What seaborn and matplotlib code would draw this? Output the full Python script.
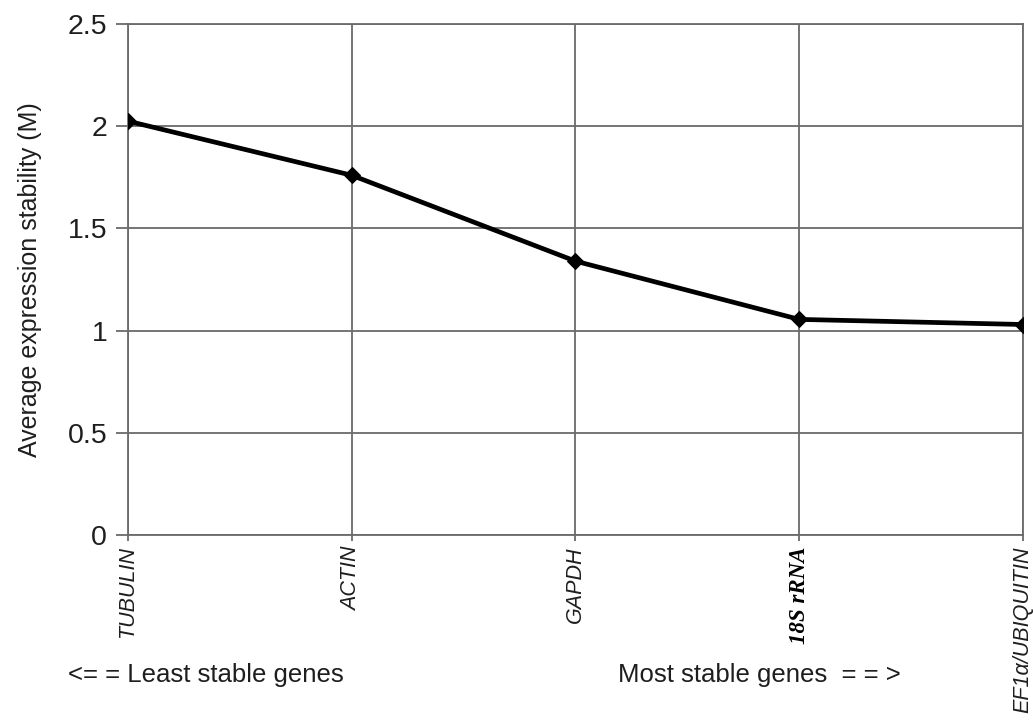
import matplotlib
matplotlib.use("Agg")
import matplotlib.pyplot as plt
import seaborn as sns
import pandas as pd

genes = ["TUBULIN", "ACTIN", "GAPDH", "18S rRNA", "EF1α/UBIQUITIN"]
stability_m = [2.025, 1.76, 1.34, 1.055, 1.03]
y_ticks = [0, 0.5, 1, 1.5, 2, 2.5]
y_tick_labels = ["0", "0.5", "1", "1.5", "2", "2.5"]

sns.set_style("ticks")
plt.rcParams["font.family"] = ["Liberation Sans", "DejaVu Sans"]

df = pd.DataFrame({"pos": range(len(genes)), "M": stability_m})

fig = plt.figure(figsize=(10.33, 7.24), dpi=100)
ax = fig.add_axes([0.1239, 0.261, 0.8664, 0.7058])

grid_col = "#6a6a6a"
text_col = "#1e1e1e"
sns.lineplot(data=df, x="pos", y="M", ax=ax, color="black", linewidth=3.4,
             marker="D", markersize=8.5, markeredgecolor="black", zorder=5)

ax.set_xlim(0, len(genes) - 1)
ax.set_ylim(0, 2.5)
ax.set_yticks(y_ticks)
ax.set_yticklabels(y_tick_labels, fontsize=20.5, color=text_col)
ax.set_xticks(range(len(genes)))
ax.set_xticklabels(genes, rotation=90, fontsize=15.5, style="italic",
                   va="top", ha="center", color=text_col)
for lbl in ax.get_xticklabels():
    if lbl.get_text() == "18S rRNA":
        lbl.set_fontfamily("Liberation Serif")
        lbl.set_fontweight("bold")
        lbl.set_fontsize(16.5)
        lbl.set_color("black")

ax.grid(True, color=grid_col, linewidth=1.3)
ax.set_axisbelow(True)
for s in ax.spines.values():
    s.set_color(grid_col)
    s.set_linewidth(1.3)
ax.tick_params(axis="y", length=9, width=1.3, color=grid_col, pad=6)
ax.tick_params(axis="x", length=4, width=1.3, color=grid_col, pad=4)

ax.set_xlabel("")
ax.set_ylabel("Average expression stability (M)", fontsize=18, color=text_col,
              labelpad=18)

fig.text(0.0658, 0.0677, "<= = Least stable genes", fontsize=18.5,
         color=text_col, va="center", ha="left")
fig.text(0.598, 0.0677, "Most stable genes  = = >", fontsize=18.5,
         color=text_col, va="center", ha="left")

fig.savefig("out.png", dpi=100)
